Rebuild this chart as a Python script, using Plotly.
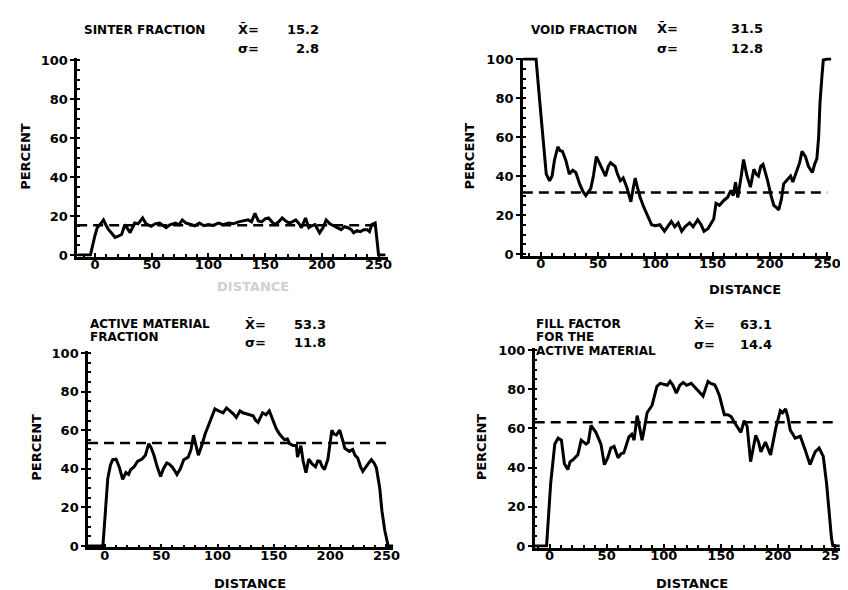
import plotly.graph_objects as go

# ---------------- data ----------------
sinter_x = [-15, -4, 0, 2, 5, 7.5, 10, 12, 15, 17.7, 20, 23.5, 26.4, 29, 31, 35, 38, 42, 45, 49.6,
            53, 57, 60, 62.7, 66, 71, 74, 77, 80, 84.5, 88, 92, 96, 100, 104, 109, 113, 118, 122, 126.6,
            131, 135, 138, 141, 144, 147, 150, 153, 156, 158.5, 162, 165, 168, 171, 174, 177, 180, 182,
            185.6, 188.5, 191, 194, 196, 198, 201, 203.8, 207, 211, 214, 217, 220, 223, 226, 228, 231,
            234, 237, 240, 242, 244, 247, 250, 256]
sinter_y = [0, 0, 10, 14, 16, 18, 15, 13, 11, 9, 9.5, 10.5, 15.6, 13, 11.5, 16.4, 16, 19, 16, 14.7,
            16, 16.4, 15, 14, 15.5, 16.4, 15.5, 18, 16.5, 15.6, 15, 16.4, 15, 15.6, 15.2, 16.4, 15.5, 16.4, 16, 17,
            17.5, 18, 17, 21.4, 17.5, 17, 18.5, 19, 17, 15.6, 17, 19, 17.5, 16.4, 17, 18, 16, 14,
            19, 14, 15, 15.6, 13.5, 11.4, 14, 18, 16, 14.7, 14, 13, 14.5, 14, 13, 11.4, 12.5,
            12, 13, 13, 12, 15.6, 16.4, 0, 0]

void_x = [-15, -4, 0.6, 3, 4.9, 7.8, 10, 12, 15, 17, 19, 22, 25, 28, 30.7, 34, 37, 39.4, 43.7, 46,
          48.6, 51, 54, 56.6, 59, 61, 65, 67, 69.5, 72, 75.3, 78.7, 80.5, 82.5, 84.5, 86.8, 90, 94, 96.8, 100,
          104, 108, 111, 114, 117, 120, 123, 126, 130, 133, 137, 140, 142.5, 146, 149, 151, 153, 156, 160, 163,
          166, 168, 170, 172, 175, 177, 180, 183, 186, 188, 190, 192, 194, 196, 198, 201, 203.4, 205.5, 207.7,
          210, 212, 215, 218, 220, 223, 226, 228, 231, 233.6, 237, 239, 241, 242.5, 243.7, 245.5, 246.6, 250, 253.7]
void_y = [100, 100, 69, 55, 41, 37.6, 40, 48, 55, 53, 52.7, 48, 41, 43, 41.8, 36, 32, 30, 33.6, 40,
          50, 47, 43, 40, 45, 46.8, 45, 41, 37.6, 39, 34, 26.8, 33, 39, 34, 29, 24, 19, 15, 14.5,
          15, 11.7, 14, 16.7, 14, 15.9, 11.7, 14, 16, 14, 17.6, 15, 11.7, 13, 16, 18, 26, 25, 27.6, 29,
          32.6, 30, 36.8, 29, 40, 48.5, 40, 34.3, 43.5, 41, 40, 45, 46, 42, 37.6, 30, 25, 24, 22.6,
          28, 36, 38, 40, 37, 42, 47, 52.7, 50, 45, 41.8, 46, 49, 60, 77.8, 92, 99.5, 100, 100]

active_x = [-15, -1.7, 2.6, 5, 7, 10, 13, 15.8, 18.7, 21, 23, 26, 29, 33, 36, 39, 41, 43.6, 46.5, 49.5,
            52, 55, 57, 59.7, 62, 64, 67, 70, 74, 76.5, 78.7, 81, 83, 86, 89, 93, 97.7, 101, 105, 108,
            111, 114, 116.7, 120, 122.5, 125.7, 127, 131.6, 134, 136, 140, 143, 146, 149, 152, 155, 159.5, 162,
            164, 167, 170, 171, 174, 176, 178.5, 181, 184, 187, 189, 191, 193, 195, 198, 201.5, 203.5, 205.5,
            208.5, 211, 213, 217, 220, 222, 224.5, 227, 229, 233, 236.6, 239, 241, 244, 246, 248.5, 251.5, 256]
active_y = [0, 0, 35, 42, 44.7, 45, 40.5, 34.5, 38, 37, 39.6, 41, 43.8, 45, 47, 53, 51, 47, 41, 36,
            40, 43, 42.5, 41, 39, 37, 40, 44.7, 46, 50, 57.4, 51, 47, 52, 58, 64, 71, 70, 69, 71.5,
            70, 68.5, 66.6, 70, 69, 68.5, 68, 67.5, 65, 64, 69, 68, 70, 65, 61, 58, 55, 55.5,
            53, 52, 52, 46, 52, 44, 38, 45, 42.5, 41, 44, 43.8, 41, 39.6, 45, 60, 58, 57.5,
            60, 55, 50.6, 49, 50, 47, 45.5, 41, 38.7, 42, 44.7, 43, 40.5, 30, 18, 8, 0, 0]

fill_x = [-13, -2.6, 1, 4.6, 7.5, 10.4, 13, 16, 18, 20.5, 24.8, 27.7, 32, 34, 36.3, 38.5, 40.6, 45, 48, 51,
          53.6, 56.5, 60, 62.5, 65, 69.5, 72, 74, 76.7, 79, 81, 83, 85.4, 89.7, 94, 97, 100, 103, 105.5, 108,
          111, 114, 117, 120, 124, 127, 130, 134.4, 138.7, 141, 144.5, 146.5, 148.8, 151, 153, 156, 159, 163,
          165, 167.5, 170.4, 173, 176, 180.5, 183, 185, 189, 191, 193.5, 198, 202, 204, 206.6, 208.5, 210.8,
          213, 215, 219.5, 221.5, 223.8, 228, 232.5, 236, 239.6, 242.5, 244.5, 246.8, 248, 254]
fill_y = [0, 0, 32, 52, 55, 54, 42, 39, 43, 44, 46.5, 54, 52, 53, 61.5, 60, 58, 52, 41.5, 45,
          50, 50.8, 45, 47, 47.5, 55.7, 57, 54, 66.5, 60, 54, 60, 68, 71.7, 81.5, 83, 82.5, 82, 84, 82,
          78, 82, 83.5, 82, 83, 81, 79, 76.5, 84, 83, 82.3, 80, 76.5, 71, 67, 67, 66, 62,
          60, 58, 64, 61, 43, 56.5, 53, 48, 53, 50, 46.5, 60, 69, 68, 70, 66, 59,
          57, 55, 56, 53, 49, 41.5, 48, 50, 45.7, 32, 18, 4, 0, 0]

means = [15.2, 31.5, 53.3, 63.1]
mean_labels = ["15.2", "31.5", "53.3", "63.1"]
sigma_labels = ["2.8", "12.8", "11.8", "14.4"]
titles = [["SINTER FRACTION"], ["VOID FRACTION"], ["ACTIVE MATERIAL", "FRACTION"],
          ["FILL FACTOR", "FOR THE", "ACTIVE MATERIAL"]]
x_ticks = [0, 50, 100, 150, 200, 250]
y_ticks = [0, 20, 40, 60, 80, 100]
series = [(sinter_x, sinter_y), (void_x, void_y), (active_x, active_y), (fill_x, fill_y)]

# ---------------- layout geometry (pixels) ----------------
W, H = 848, 590
# (axis left px, axis right px, px of x=0, px of x=250, px of y=0, px of y=100)
panels = [
    (70, 385, 88, 375, 246, 47),
    (521, 833, 539, 829, 245, 46),
    (81, 390, 98, 383, 543, 346),
    (533, 842, 548, 837, 543, 343),
]
PAD = 0.8
FONT = "DejaVu Sans"

fig = go.Figure()
layout = dict(width=W, height=H, margin=dict(l=0, r=0, t=0, b=0),
              paper_bgcolor="white", plot_bgcolor="white", showlegend=False,
              font=dict(family=FONT, color="black"))
annotations = []


def ann(text, px, py, xanchor="left", size=12, angle=0, color="black"):
    annotations.append(dict(text=text, x=px / W, y=1 - py / H, xref="paper", yref="paper",
                            xanchor=xanchor, yanchor="middle", showarrow=False, textangle=angle,
                            borderpad=0,
                            font=dict(family=FONT, size=size, color=color, weight="bold")))


for i, (xl, xr, x0, x250, y0, y100) in enumerate(panels):
    n = "" if i == 0 else str(i + 1)
    ppx = (x250 - x0) / 250.0
    ppy = (y0 - y100) / 100.0
    xrange = [(xl - x0) / ppx, (xr - x0) / ppx]
    ybot = y0 + PAD * ppy
    ytop = y100 - PAD * ppy
    layout["xaxis" + n] = dict(
        domain=[xl / W, xr / W], range=xrange, anchor="y" + n,
        showline=True, linecolor="black", linewidth=2.5, mirror=False,
        showgrid=False, zeroline=False, tickvals=x_ticks,
        ticks="inside", ticklen=4, tickwidth=2, tickcolor="black",
        minor=dict(dtick=10, tick0=0, ticks="inside", ticklen=3, tickwidth=1.5, tickcolor="black", showgrid=False),
        tickfont=dict(family=FONT, size=13, color="black", weight="bold"), ticklabelstandoff=-6)
    layout["yaxis" + n] = dict(
        domain=[1 - ybot / H, 1 - ytop / H], range=[-PAD, 100 + PAD], anchor="x" + n,
        showline=True, linecolor="black", linewidth=2.5,
        showgrid=False, zeroline=False, tickvals=y_ticks,
        ticks="outside", ticklen=4, tickwidth=2, tickcolor="black",
        minor=dict(dtick=5, tick0=0, ticks="inside", ticklen=3, tickwidth=1.5, tickcolor="black", showgrid=False),
        tickfont=dict(family=FONT, size=13, color="black", weight="bold"), ticklabelstandoff=0)

    sx, sy = series[i]
    fig.add_trace(go.Scatter(x=sx, y=sy, mode="lines", xaxis="x" + n, yaxis="y" + n,
                             line=dict(color="black", width=3), hoverinfo="skip"))
    fig.add_trace(go.Scatter(x=[xrange[0], 250], y=[means[i], means[i]], mode="lines",
                             xaxis="x" + n, yaxis="y" + n,
                             line=dict(color="black", width=2.5, dash="10px,6px"), hoverinfo="skip"))

# titles
title_pos = [(76, [16]), (528, [16]), (82, [316, 330]), (533, [316, 330, 344])]
for i, (px, ys) in enumerate(title_pos):
    for line, py in zip(titles[i], ys):
        ann(line, px, py, size=12)

# statistics
stat_pos = [(232, 316, 16, 35), (656, 765, 15, 35), (239, 323, 317, 335), (693, 774, 317, 337)]
for i, (lx, rx, ym, ys) in enumerate(stat_pos):
    ann("X\u0304=", lx, ym, size=13)
    ann(mean_labels[i], rx, ym, xanchor="right", size=13)
    ann("\u03c3=", lx, ys, size=13)
    ann(sigma_labels[i], rx, ys, xanchor="right", size=13)

# axis titles
for px, py in [(17, 145), (467, 145), (28, 442), (479, 442)]:
    ann("PERCENT", px, py, xanchor="center", size=13, angle=-90)
ann("DISTANCE", 248, 278, xanchor="center", size=13, color="#d0d0d0")
ann("DISTANCE", 746, 281, xanchor="center", size=13)
ann("DISTANCE", 245, 581, xanchor="center", size=13)
ann("DISTANCE", 692, 581, xanchor="center", size=13)

layout["annotations"] = annotations
fig.update_layout(**layout)
fig.write_html("out.html")
